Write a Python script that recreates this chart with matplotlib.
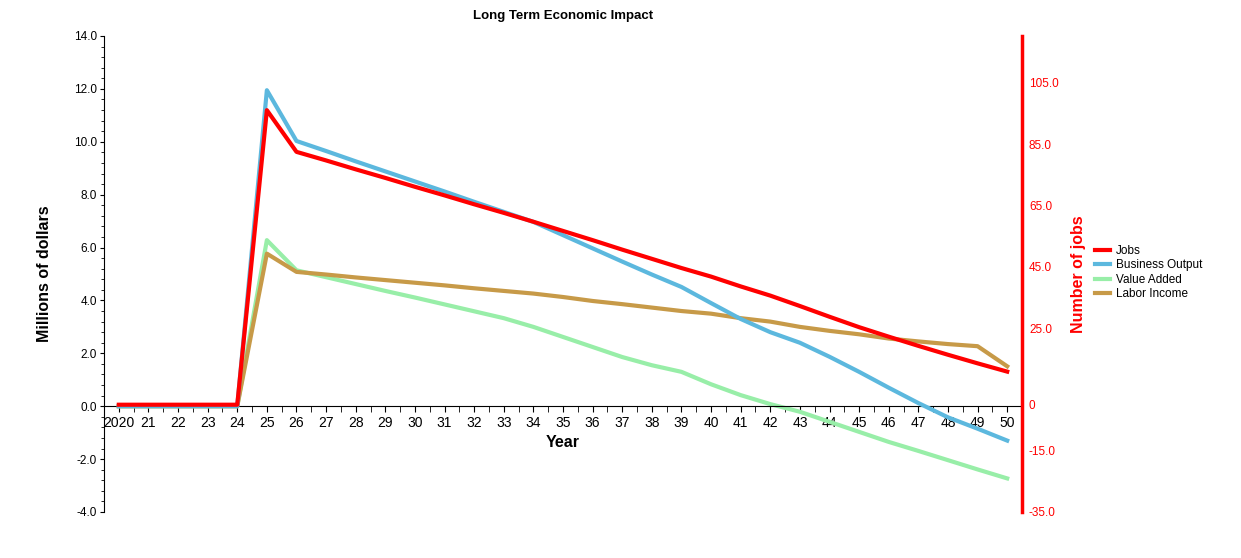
import numpy as np
from matplotlib import pyplot as plt
from matplotlib.ticker import MultipleLocator
from matplotlib.lines import Line2D

plt.rcParams['font.family'] = ['Liberation Sans', 'DejaVu Sans']

years = list(range(2020, 2051))
year_labels = ['2020'] + [str(y)[2:] for y in years[1:]]

# number of jobs (right axis)
jobs = [0, 0, 0, 0, 0, 96.1, 82.5, 79.7, 76.8, 74.0, 71.1, 68.3, 65.4, 62.6, 59.7,
        56.7, 53.7, 50.6, 47.6, 44.6, 41.8, 38.6, 35.6, 32.2, 28.7, 25.3, 22.2,
        19.2, 16.3, 13.5, 10.8]
# millions of dollars (left axis)
business_output = [0, 0, 0, 0, 0, 11.95, 10.03, 9.65, 9.26, 8.88, 8.5, 8.12, 7.73,
                   7.35, 6.97, 6.47, 5.97, 5.47, 4.98, 4.51, 3.9, 3.3, 2.8, 2.4,
                   1.87, 1.3, 0.7, 0.12, -0.42, -0.85, -1.3]
value_added = [0, 0, 0, 0, 0, 6.28, 5.14, 4.88, 4.62, 4.36, 4.11, 3.85, 3.59, 3.33,
               3.0, 2.62, 2.24, 1.86, 1.55, 1.30, 0.83, 0.42, 0.08, -0.21, -0.59,
               -0.97, -1.35, -1.69, -2.04, -2.39, -2.73]
labor_income = [0, 0, 0, 0, 0, 5.77, 5.08, 4.98, 4.87, 4.77, 4.67, 4.57, 4.46, 4.36,
                4.26, 4.13, 3.98, 3.86, 3.73, 3.6, 3.5, 3.33, 3.2, 3.0, 2.85, 2.72,
                2.56, 2.45, 2.35, 2.27, 1.51]

jobs_ticks = [105, 85, 65, 45, 25, 0, -15, -35]
jobs_tick_labels = ['105.0', '85.0', '65.0', '45.0', '25.0', '0', '-15.0', '-35.0']

c_jobs = '#ff0000'
c_bo = '#5cb8de'
c_va = '#98eea8'
c_li = '#c79a48'

fig = plt.figure(figsize=(12.41, 5.58), dpi=100)
ax = fig.add_axes([104/1241, 1-512/558, (1022-104)/1241, (512-36)/558])
ax2 = ax.twinx()

ax.plot(years, value_added, color=c_va, lw=3, zorder=2)
ax.plot(years, labor_income, color=c_li, lw=3, zorder=3)
ax.plot(years, business_output, color=c_bo, lw=3, zorder=4)
ax2.plot(years, jobs, color=c_jobs, lw=3)

ax.set_xlim(2019.5, 2050.5)
ax.set_ylim(-4, 14)
ax2.set_ylim(-35, 120.3)

ax.set_xticks(years)
ax.set_xticklabels(year_labels, fontsize=8.5)
ax.xaxis.set_minor_locator(MultipleLocator(0.5))
ax.tick_params(axis='x', which='both', direction='out', length=4, pad=3)
ax.yaxis.set_major_locator(MultipleLocator(2))
ax.yaxis.set_minor_locator(MultipleLocator(0.4))
ax.set_yticklabels([f'{v:.1f}' for v in ax.get_yticks()], fontsize=8.5)
ax.tick_params(axis='y', which='major', length=3, pad=2)
ax.tick_params(axis='y', which='minor', length=2)

ax.spines['top'].set_visible(False)
ax.spines['right'].set_visible(False)
ax.spines['bottom'].set_position(('data', 0))
ax2.spines['top'].set_visible(False)
ax2.spines['left'].set_visible(False)
ax2.spines['bottom'].set_visible(False)
ax2.spines['right'].set_color(c_jobs)
ax2.spines['right'].set_linewidth(2.5)

ax2.set_yticks(jobs_ticks)
ax2.set_yticklabels(jobs_tick_labels, fontsize=8.5, color=c_jobs)
ax2.tick_params(axis='y', length=0, pad=5)

ax.set_title('Long Term Economic Impact', fontsize=9.5, fontweight='bold', pad=12)
ax.set_ylabel('Millions of dollars', fontsize=11.5, fontweight='bold', labelpad=16)
ax.set_xlabel('Year', fontsize=11.5, fontweight='bold')
ax.xaxis.set_label_coords(0.5, 0.162)
ax2.set_ylabel('Number of jobs', fontsize=11.5, fontweight='bold', color=c_jobs, labelpad=9)

handles = [Line2D([], [], color=c_jobs, lw=3),
           Line2D([], [], color=c_bo, lw=3),
           Line2D([], [], color=c_va, lw=3),
           Line2D([], [], color=c_li, lw=3)]
fig.legend(handles, ['Jobs', 'Business Output', 'Value Added', 'Labor Income'],
           loc='upper left', bbox_to_anchor=(1095/1241, 1-245/558), frameon=False,
           fontsize=8.5, handlelength=1.3, handletextpad=0.5, labelspacing=0.2,
           borderpad=0, borderaxespad=0)

plt.savefig('out.png')
